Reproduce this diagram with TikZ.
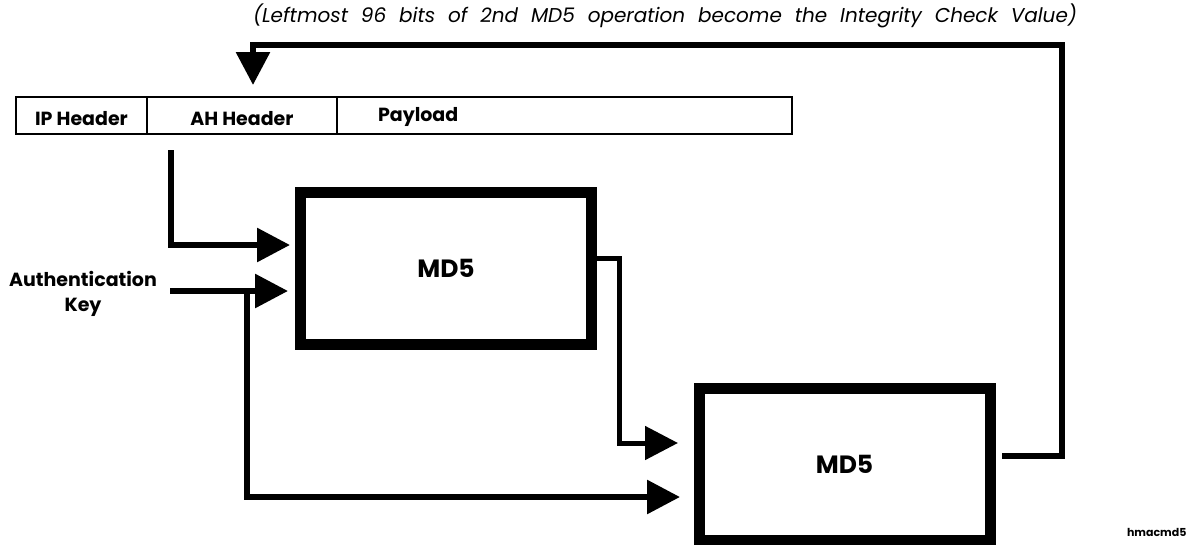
\documentclass[tikz,border=0pt]{standalone}
\usepackage{fontspec}
\setmainfont{Poppins}
\usetikzlibrary{arrows.meta}
\begin{document}
\begin{tikzpicture}[x=1pt,y=-1pt,
  conn/.style={line width=6pt, line join=miter, -{Triangle[length=33pt,width=33pt]}},
  thinconn/.style={conn, line width=5pt},
  md5box/.style={draw, line width=11pt, minimum width=291pt, minimum height=152pt,
    inner sep=0pt, font=\fontsize{25}{28}\selectfont\bfseries},
  cell/.style={draw, line width=1.5pt, minimum height=37pt, inner sep=0pt, outer sep=0pt,
    anchor=north west, text height=20pt, text depth=0pt,
    font=\fontsize{19}{20}\selectfont\bfseries},
  lbl/.style={font=\fontsize{19}{25}\selectfont\bfseries, align=center},
  note/.style={font=\fontsize{20}{22}\selectfont\itshape},
  tag/.style={font=\fontsize{11}{12}\selectfont\bfseries}]
\useasboundingbox (0,0) rectangle (1194,544);

% packet layout
\node[cell, minimum width=131pt] (ip) at (16,97) {IP Header};
\node[cell, minimum width=190pt] (ah) at (ip.north east) {AH Header};
\node[cell, minimum width=455pt, text height=12pt] (pl) at (ah.north east)
  {\makebox[455pt][l]{\hspace{41pt}Payload}};

% hash stages
\node[md5box] (m1) at (446,268) {MD5};
\node[md5box] (m2) at (844.5,464) {MD5};

% labels
\node[lbl] (key) at (83,294) {Authentication\\Key};
\node[note] (icv) at (665,16) {\makebox[824pt][s]{(Leftmost 96 bits of 2nd MD5 operation become the Integrity Check Value)}};
\node[tag, anchor=south east] (fig) at (1190,540) {hmacmd5};

% connectors
\coordinate (ahsrc) at (171,150);
\coordinate (keysrc) at (170,291);
\coordinate (split) at (247,291);
\draw[conn] (ahsrc) |- ([xshift=-5pt,yshift=23pt]m1.west);
\draw[conn] (keysrc) -- ([xshift=-7pt,yshift=-23pt]m1.west);
\draw[conn] (split) |- ([xshift=-13.5pt,yshift=-33pt]m2.west);
\draw[thinconn] ([yshift=9.5pt]m1.east) -- ++(22.5,0) |- ([xshift=-15.5pt,yshift=21pt]m2.west);
\draw[conn] ([xshift=6.5pt,yshift=8pt]m2.east) -- ++(60,0) -- ++(0,-411)
  -| ([xshift=11pt,yshift=12pt]ah.north);
\end{tikzpicture}
\end{document}
